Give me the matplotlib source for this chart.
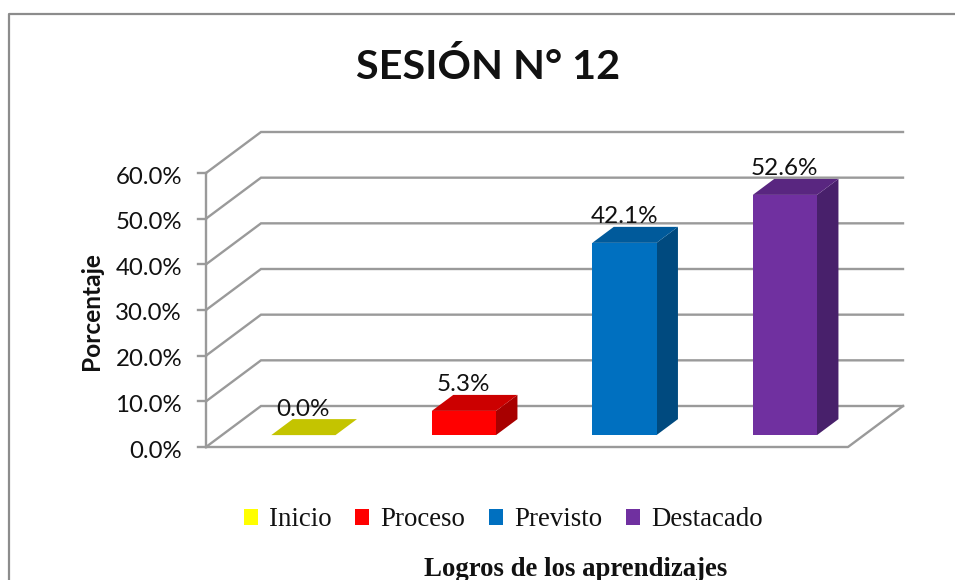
import matplotlib
matplotlib.use("Agg")
import matplotlib.pyplot as plt
from matplotlib.patches import Polygon, Patch

categories = ["Inicio", "Proceso", "Previsto", "Destacado"]
values = [0.0, 5.3, 42.1, 52.6]
y_ticks = [0, 10, 20, 30, 40, 50, 60]
front_colors = ["#FFFF00", "#FF0000", "#0070C0", "#7030A0"]
top_colors = ["#C4C400", "#CC0000", "#005A9B", "#592680"]
side_colors = ["#A8A800", "#A80000", "#004A7F", "#48206B"]

W, H = 955, 580
fig = plt.figure(figsize=(W / 100, H / 100), dpi=100, facecolor="white")
# plot front plane in pixels
L, R, T, B = 206, 848, 173, 447
ax = fig.add_axes([L / W, 1 - B / H, (R - L) / W, (B - T) / H])
ax.set_xlim(-0.5, 3.5)
ax.set_ylim(0, 60)
ax.axis("off")

# depth vector of the box, in data units
DX = 55 / (R - L) * 4
DY = 41 / (B - T) * 60
GRID = "#9A9A9A"
SANS = "Lato"
SERIF = "Liberation Serif"


def depth(x, y, f):
    return (x + DX * f, y + DY * f)


# frame of the chart area
fig.add_artist(plt.Line2D([8.5 / W, 8.5 / W, 1], [0, 1 - 13.5 / H, 1 - 13.5 / H],
                          color="#8C8C8C", lw=1.6))

# gridlines, floor and axis
for v in y_ticks:
    p0 = (-0.5, v)
    p1 = depth(-0.5, v, 1)
    p2 = depth(3.5, v, 1)
    ax.plot([p0[0], p1[0], p2[0]], [p0[1], p1[1], p2[1]], color=GRID, lw=1.7,
            clip_on=False, zorder=1, solid_joinstyle="miter")
    ax.plot([-0.5 - 8 / (R - L) * 4, -0.5], [v, v], color=GRID, lw=1.7,
            clip_on=False, zorder=1)
    ax.annotate(f"{v:.1f}%", xy=(-0.5, v), xytext=(-24 * 0.72, -4 * 0.72), textcoords="offset points",
                ha="right", va="center", fontsize=17.3, family=SANS, color="#111111",
                annotation_clip=False)
ax.plot([-0.5, -0.5], [0, 60], color=GRID, lw=1.7, clip_on=False, zorder=1)
ax.plot([-0.5, 3.5, depth(3.5, 0, 1)[0]], [0, 0, depth(3.5, 0, 1)[1]], color=GRID, lw=1.7,
        clip_on=False, zorder=1)

# 3D bars
half = 0.2
shift = 1.2 / (R - L) * 4
f0, f1 = 0.29, 0.68
for i, v in enumerate(values):
    x0, x1 = i - half + shift, i + half + shift
    a = depth(x0, 0, f0)
    b = depth(x1, 0, f0)
    ft0 = depth(x0, v, f0)
    ft1 = depth(x1, v, f0)
    bt0 = depth(x0, v, f1)
    bt1 = depth(x1, v, f1)
    bb1 = depth(x1, 0, f1)
    ax.add_patch(Polygon([b, bb1, bt1, ft1], fc=side_colors[i], ec="none", zorder=3, clip_on=False))
    ax.add_patch(Polygon([a, b, ft1, ft0], fc=front_colors[i], ec="none", zorder=3, clip_on=False))
    ax.add_patch(Polygon([ft0, ft1, bt1, bt0], fc=top_colors[i], ec="none", zorder=3, clip_on=False))
    ax.annotate(f"{v:.1f}%", xy=(ft0[0] + half, ft0[1]), xytext=(0, 26 * 0.72), textcoords="offset points",
                ha="center", va="center", fontsize=17.5, family=SANS, color="#111111",
                zorder=4, annotation_clip=False)

fig.text(488.5 / W, 1 - 67 / H, "SESIÓN N° 12", ha="center", va="center", fontsize=29.8,
         fontweight="bold", family=SANS, color="#111111")
fig.text(91 / W, 1 - 311 / H, "Porcentaje", rotation=90, ha="center", va="center",
         fontsize=17.6, fontweight="bold", family=SANS, color="#111111")
fig.text(575.5 / W, 1 - 569 / H, "Logros de los aprendizajes", ha="center", va="center",
         fontsize=19.3, fontweight="bold", family=SERIF, color="#111111")

handles = [Patch(fc=c, ec="none", label=n) for c, n in zip(front_colors, categories)]
fig.legend(handles=handles, loc="center", bbox_to_anchor=(503.5 / W, 1 - 520 / H), ncol=4,
           frameon=False, prop={"family": SERIF, "size": 19.4}, handlelength=0.52, handleheight=0.52,
           handletextpad=0.42, columnspacing=0.88, borderpad=0, labelcolor="#111111")

fig.savefig("out.png", dpi=100)
